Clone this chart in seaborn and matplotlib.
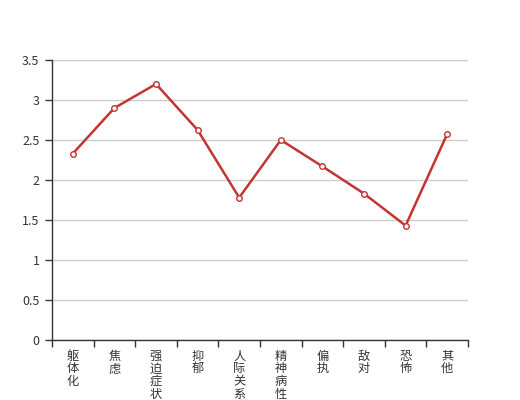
import matplotlib
matplotlib.use("Agg")
import matplotlib.pyplot as plt
import seaborn as sns
import pandas as pd
from matplotlib.ticker import FuncFormatter, FixedLocator

categories = ["躯体化", "焦虑", "强迫症状", "抑郁", "人际关系敏感", "精神病性", "偏执", "敌对", "恐怖", "其他"]
values = [2.33, 2.90, 3.20, 2.625, 1.78, 2.50, 2.17, 1.83, 1.43, 2.575]
y_ticks = [0, 0.5, 1, 1.5, 2, 2.5, 3, 3.5]

sns.set_theme(style="white")
plt.rcParams['font.family'] = ['Noto Sans CJK SC', 'DejaVu Sans']

df = pd.DataFrame({"cat": categories, "val": values})

fig = plt.figure(figsize=(5.2, 4.0), dpi=100)
ax = fig.add_axes([52/520, 60/400, 416/520, 280/400])

sns.lineplot(data=df, x="cat", y="val", ax=ax, color="#c23531", linewidth=1.8,
             marker="o", markersize=4, markerfacecolor="white",
             markeredgecolor="#c23531", markeredgewidth=1, sort=False)

ax.set_xlim(-0.5, len(categories) - 0.5)
ax.set_ylim(0, 3.5)
ax.set_yticks(y_ticks)
ax.yaxis.set_major_formatter(FuncFormatter(lambda v, p: f"{v:g}"))
ax.yaxis.grid(True, color="#cccccc", linewidth=1)
ax.xaxis.grid(False)
ax.set_axisbelow(True)

ax.set_xticks(range(len(categories)))
ax.set_xticklabels(["\n".join(c) for c in categories], linespacing=0.96, va="top")
ax.xaxis.set_minor_locator(FixedLocator([i - 0.5 for i in range(len(categories) + 1)]))
ax.tick_params(axis="x", which="major", length=0, pad=7, labelsize=8.8, labelcolor="#333333")
ax.tick_params(axis="x", which="minor", length=5, width=1, color="#333333", direction="out", bottom=True)
ax.tick_params(axis="y", which="major", length=5, width=1, color="#333333", direction="out", left=True,
               labelsize=9, labelcolor="#333333", pad=4)

for s in ["top", "right"]:
    ax.spines[s].set_visible(False)
for s in ["left", "bottom"]:
    ax.spines[s].set_color("#333333")
    ax.spines[s].set_linewidth(1)

ax.set_xlabel("")
ax.set_ylabel("")

fig.savefig("out.png", dpi=100)
